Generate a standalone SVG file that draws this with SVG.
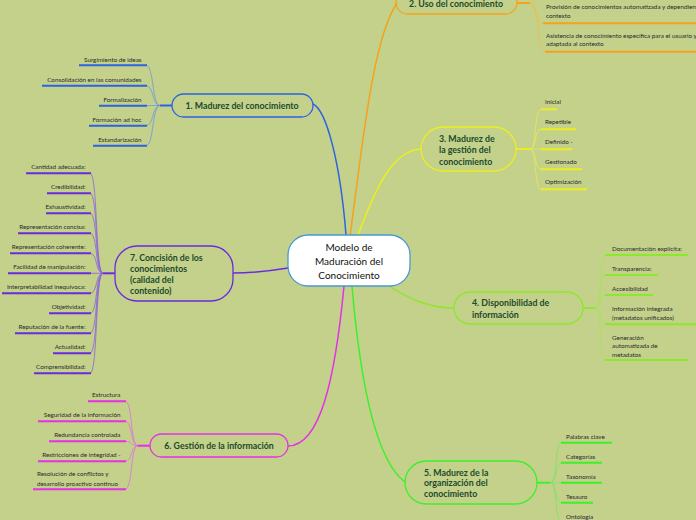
<svg xmlns="http://www.w3.org/2000/svg" width="696" height="520" viewBox="0 0 696 520">
<style>
.bg{fill:#c3d18b}
.br{fill:none;stroke-width:1.3}
.bt{font-family:Lato,"Liberation Sans",sans-serif;font-weight:bold;font-size:8.8px;fill:#1d4a2b}
.ct{font-family:Lato,"Liberation Sans",sans-serif;font-size:6.3px;fill:#2b2b2b}
.mt{font-family:Lato,"Liberation Sans",sans-serif;font-size:10px;fill:#111}
.main{fill:none;stroke-width:1.5}
.sub{fill:none;stroke-width:0.8}
.ul{fill:none;stroke-width:2}
.c1{stroke:#2d63e2}.s1{stroke:#7396da}
.c2{stroke:#f5a21e}.s2{stroke:#f0bc4c}
.c3{stroke:#ecee22}.s3{stroke:#e6e85a}
.c4{stroke:#8ce82a}.s4{stroke:#a4e458}
.c5{stroke:#3ef02a}.s5{stroke:#7ae464}
.c6{stroke:#e52fe8}.s6{stroke:#e06ce0}
.c7{stroke:#6a2ae0}.s7{stroke:#8a62dc}
</style>
<rect class="bg" x="0" y="0" width="696" height="520"/>
<g id="connectors">
<path class="main c1" d="M313,104 C326,110 340,160 346,235"/>
<path class="main c2" d="M350,236 C362,150 372,40 397,3"/>
<path class="main c3" d="M358,235 C375,190 392,150 421,149"/>
<path class="main c4" d="M386,284 C410,300 430,308 454,308"/>
<path class="main c5" d="M352,286 C360,380 375,460 405,482"/>
<path class="main c6" d="M344,286 C335,380 320,446 288,446"/>
<path class="main c7" d="M233,273 C255,273 270,271 288,268"/>
</g>
<g id="center">
<rect x="288" y="235" width="122" height="51" rx="20" fill="#fff" stroke="#4a98d2" stroke-width="1.3"/>
<text class="mt" text-anchor="middle"><tspan x="349" y="251">Modelo de</tspan><tspan x="349" y="265">Maduración del</tspan><tspan x="349" y="279">Conocimiento</tspan></text>
</g>
<g id="node1">
<rect class="br c1" x="172" y="94" width="141" height="23" rx="11.5"/>
<text class="bt" x="242" y="108.8" text-anchor="middle">1. Madurez del conocimiento</text>
<path class="ul c1" d="M172,105.5 H160"/>
<path class="sub s1" d="M160,105.5 C152,105.5 154,65.3 146,65.3 M160,105.5 C152,105.5 154,85.7 146,85.7 M160,105.5 H146 M160,105.5 C152,105.5 154,125.7 146,125.7 M160,105.5 C152,105.5 154,145.7 146,145.7"/>
<path class="ul c1" d="M79,65.3 H147 M42,85.7 H147 M99,105.7 H147 M89,125.7 H147 M93,145.7 H147"/>
<g class="ct" text-anchor="end">
<text x="141.5" y="61.5">Surgimiento de ideas</text>
<text x="141.5" y="81.5">Consolidación en las comunidades</text>
<text x="141.5" y="101.5">Formalización</text>
<text x="141.5" y="121.5">Formación ad hoc</text>
<text x="141.5" y="141.5">Estandarización</text>
</g>
</g>
<g id="node2">
<rect class="br c2" x="396" y="-9" width="121" height="23" rx="11.5"/>
<text class="bt" x="456" y="7.4" text-anchor="middle">2. Uso del conocimiento</text>
<path class="ul c2" d="M517,3 H530"/>
<path class="sub s2" d="M530,3 C537,3 536,-6 545,-6 M530,3 C538,3 535,23.3 543,23.3 M530,3 C539,3 537,51.7 545,51.7"/>
<path class="ul c2" d="M543,23.3 H700 M545,51.7 H700"/>
<g class="ct">
<text x="546" y="9.4">Provisión de conocimientos automatizada y dependiente del</text>
<text x="546" y="17.6">contexto</text>
<text x="546" y="37.6">Asistencia de conocimiento específica para el usuario y</text>
<text x="546" y="46">adaptada al contexto</text>
</g>
</g>
<g id="node3">
<rect class="br c3" x="421" y="127" width="95" height="44" rx="22"/>
<text class="bt"><tspan x="439" y="141.5">3. Madurez de</tspan><tspan x="439" y="153">la gestión del</tspan><tspan x="439" y="164.5">conocimiento</tspan></text>
<path class="ul c3" d="M516,149 H530"/>
<path class="sub s3" d="M530,149 C537,149 534,109.3 541,109.3 M530,149 C537,149 534,129.3 541,129.3 M530,149 H541 M530,149 C537,149 534,169.3 541,169.3 M530,149 C537,149 534,189.3 541,189.3"/>
<path class="ul c3" d="M541,109.3 H557 M541,129.3 H576 M541,149.3 H572 M541,169.3 H582 M541,189.3 H587"/>
<g class="ct">
<text x="545" y="104">Inicial</text>
<text x="545" y="124">Repetible</text>
<text x="545" y="144">Definido -</text>
<text x="545" y="164">Gestionado</text>
<text x="545" y="184">Optimización</text>
</g>
</g>
<g id="node4">
<rect class="br c4" x="454" y="292" width="129" height="32" rx="16"/>
<text class="bt"><tspan x="472" y="306">4. Disponibilidad de</tspan><tspan x="472" y="317.5">información</tspan></text>
<path class="ul c4" d="M583,308 H595"/>
<path class="sub s4" d="M595,308 C603,308 598,255 606,255 M595,308 C603,308 598,275 606,275 M595,308 C603,308 598,295 606,295 M595,308 C603,308 598,324.3 606,324.3 M595,308 C603,308 598,360 606,360"/>
<path class="ul c4" d="M605,255 H688 M605,275 H658 M605,295 H653 M605,324.3 H700 M605,360 H688"/>
<g class="ct">
<text x="612" y="251">Documentación explícita:</text>
<text x="612" y="271">Transparencia:</text>
<text x="612" y="290.5">Accesibilidad</text>
<text x="612" y="310.5">Información integrada</text>
<text x="612" y="320">(metadatos unificados)</text>
<text x="612" y="339.5">Generación</text>
<text x="612" y="348">automatizada de</text>
<text x="612" y="356.5">metadatos</text>
</g>
</g>
<g id="node5">
<rect class="br c5" x="405" y="461" width="132" height="43" rx="21.5"/>
<text class="bt"><tspan x="424" y="475.5">5. Madurez de la</tspan><tspan x="424" y="486">organización del</tspan><tspan x="424" y="496.5">conocimiento</tspan></text>
<path class="ul c5" d="M537,482.7 H550"/>
<path class="sub s5" d="M550,482.7 C558,482.7 554,442.7 562,442.7 M550,482.7 C558,482.7 554,462.7 562,462.7 M550,482.7 H562 M550,482.7 C558,482.7 554,502.7 562,502.7 M550,482.7 C558,482.7 554,522.7 562,522.7"/>
<path class="ul c5" d="M561,442.7 H612 M561,462.7 H602 M561,482.7 H602 M561,502.7 H593 M561,522.7 H600"/>
<g class="ct">
<text x="566" y="438.5">Palabras clave</text>
<text x="566" y="458.5">Categorías</text>
<text x="566" y="478.5">Taxonomía</text>
<text x="566" y="498.5">Tesauro</text>
<text x="566" y="518.5">Ontología</text>
</g>
</g>
<g id="node6">
<rect class="br c6" x="150" y="434" width="138" height="23" rx="11.5"/>
<text class="bt" x="219" y="448.8" text-anchor="middle">6. Gestión de la información</text>
<path class="ul c6" d="M150,445.7 H138"/>
<path class="sub s6" d="M138,445.7 C130,445.7 133,401.3 125,401.3 M138,445.7 C130,445.7 133,421.3 125,421.3 M138,445.7 C130,445.7 133,441.3 125,441.3 M138,445.7 C130,445.7 133,461.3 125,461.3 M138,445.7 C130,445.7 133,489.3 125,489.3"/>
<path class="ul c6" d="M88,401.3 H126 M38,421.3 H126 M49,441.3 H126 M38,461.3 H126 M33,489.3 H126"/>
<g class="ct">
<text x="120.5" y="396.5" text-anchor="end">Estructura</text>
<text x="120.5" y="416.5" text-anchor="end">Seguridad de la información</text>
<text x="120.5" y="436.5" text-anchor="end">Redundancia controlada</text>
<text x="120.5" y="456.5" text-anchor="end">Restricciones de integridad -</text>
<text x="37" y="476">Resolución de conflictos y</text>
<text x="37" y="486">desarrollo proactivo continuo</text>
</g>
</g>
<g id="node7">
<rect class="br c7" x="115" y="246" width="118" height="55" rx="22"/>
<text class="bt"><tspan x="130" y="260.5">7. Concisión de los</tspan><tspan x="130" y="271.5">conocimientos</tspan><tspan x="130" y="282.5">(calidad del</tspan><tspan x="130" y="293.5">contenido)</tspan></text>
<path class="ul c7" d="M115,273.3 H103"/>
<path class="sub s7" d="M103,273.3 C95,273.3 98,173.3 90,173.3 M103,273.3 C95,273.3 98,193.3 90,193.3 M103,273.3 C95,273.3 98,213.3 90,213.3 M103,273.3 C95,273.3 98,233.3 90,233.3 M103,273.3 C95,273.3 98,253.3 90,253.3 M103,273.3 H90 M103,273.3 C95,273.3 98,293.3 90,293.3 M103,273.3 C95,273.3 98,313.3 90,313.3 M103,273.3 C95,273.3 98,333.3 90,333.3 M103,273.3 C95,273.3 98,353.3 90,353.3 M103,273.3 C95,273.3 98,373.3 90,373.3"/>
<path class="ul c7" d="M26,173.3 H91 M47,193.3 H91 M46,213.3 H91 M18,233.3 H91 M10,253.3 H91 M8,273.3 H91 M2,293.3 H91 M49,313.3 H91 M15,333.3 H91 M53,353.3 H91 M34,373.3 H91"/>
<g class="ct" text-anchor="end">
<text x="85.5" y="168.5">Cantidad adecuada:</text>
<text x="85.5" y="188.5">Credibilidad:</text>
<text x="85.5" y="208.5">Exhaustividad:</text>
<text x="85.5" y="228.5">Representación concisa:</text>
<text x="85.5" y="248.5">Representación coherente:</text>
<text x="85.5" y="268.5">Facilidad de manipulación:</text>
<text x="85.5" y="288.5">Interpretabilidad inequívoca:</text>
<text x="85.5" y="308.5">Objetividad:</text>
<text x="85.5" y="328.5">Reputación de la fuente:</text>
<text x="85.5" y="348.5">Actualidad:</text>
<text x="85.5" y="368.5">Comprensibilidad:</text>
</g>
</g>
</svg>
